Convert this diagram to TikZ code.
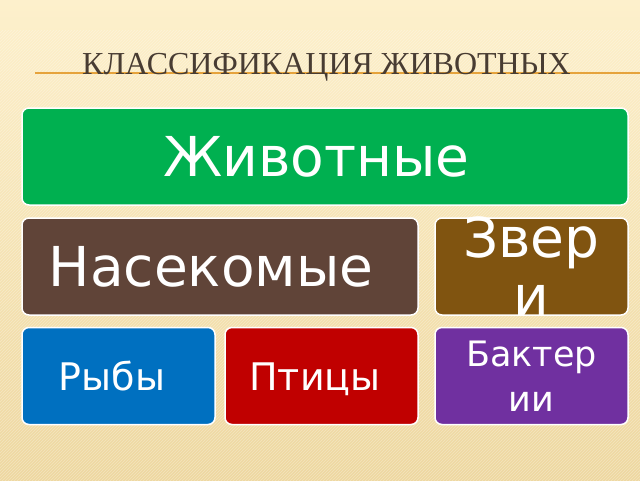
\documentclass[tikz,border=0pt]{standalone}
\usepackage{fontspec}
\setmainfont{DejaVu Sans}
\newfontfamily\titlefont{Liberation Serif}
\usetikzlibrary{patterns}

\definecolor{bgtop}{RGB}{253,240,204}
\definecolor{bgbot}{RGB}{238,216,160}
\definecolor{titlegray}{RGB}{72,60,50}
\definecolor{ruleorange}{RGB}{230,163,60}
\definecolor{cgreen}{RGB}{0,176,80}
\definecolor{cbrown}{RGB}{96,68,56}
\definecolor{cochre}{RGB}{128,84,16}
\definecolor{cblue}{RGB}{0,112,192}
\definecolor{cred}{RGB}{192,0,0}
\definecolor{cpurple}{RGB}{112,48,160}

\tikzstyle{tile}=[rectangle, rounded corners=7pt, draw=white, line width=1.5pt, text=white, inner sep=0pt, align=center]
\tikzstyle{wide}=[tile, minimum width=606pt, minimum height=97pt]
\tikzstyle{mid}=[tile, minimum width=396pt, minimum height=97pt]
\tikzstyle{small}=[tile, minimum width=193pt, minimum height=97pt]
\tikzstyle{bigtext}=[font=\fontsize{55}{60}\selectfont, text height=40pt, text depth=-6pt]
\tikzstyle{smalltext}=[font=\fontsize{38}{42}\selectfont, text height=28pt, text depth=0pt]
\tikzstyle{words}=[text=white, inner sep=0pt, align=center]

\begin{document}
\begin{tikzpicture}[x=1pt,y=-1pt]
\useasboundingbox (0,0) rectangle (640,480);
\shade[top color=bgtop, bottom color=bgbot] (0,0) rectangle (640,480);
\fill[pattern=north east lines, pattern color=white, opacity=.3] (0,30) rectangle (640,480);

% title
\coordinate (ruleL) at (35,73);
\coordinate (ruleR) at (640,73);
\draw[line width=1.5pt, ruleorange] (ruleL) -- (ruleR);
\node [anchor=base west, inner sep=0pt, text=titlegray, font=\titlefont\fontsize{32}{36}\selectfont] (title) at (82,74) {КЛАССИФИКАЦИЯ ЖИВОТНЫХ};

% boxes
\node [wide, fill=cgreen, bigtext] (animals) at (325,156.5) {Животные\hspace*{.32em}};
\node [mid, fill=cbrown, bigtext] (insects) at (220,266.5) {Насекомые\hspace*{.32em}};
\node [small, fill=cochre] (beasts) at (531.5,266.5) {};
\node [words, font=\fontsize{55}{58}\selectfont] (beaststext) at (beasts.center) {Звер\\и};
\node [small, fill=cblue, smalltext] (fish) at (118.5,376) {Рыбы\hspace*{.34em}};
\node [small, fill=cred, smalltext] (birds) at (321.5,376) {Птицы\hspace*{.34em}};
\node [small, fill=cpurple, font=\fontsize{35}{45}\selectfont] (bacteria) at (531.5,376) {Бактер\\ии};
\end{tikzpicture}
\end{document}
